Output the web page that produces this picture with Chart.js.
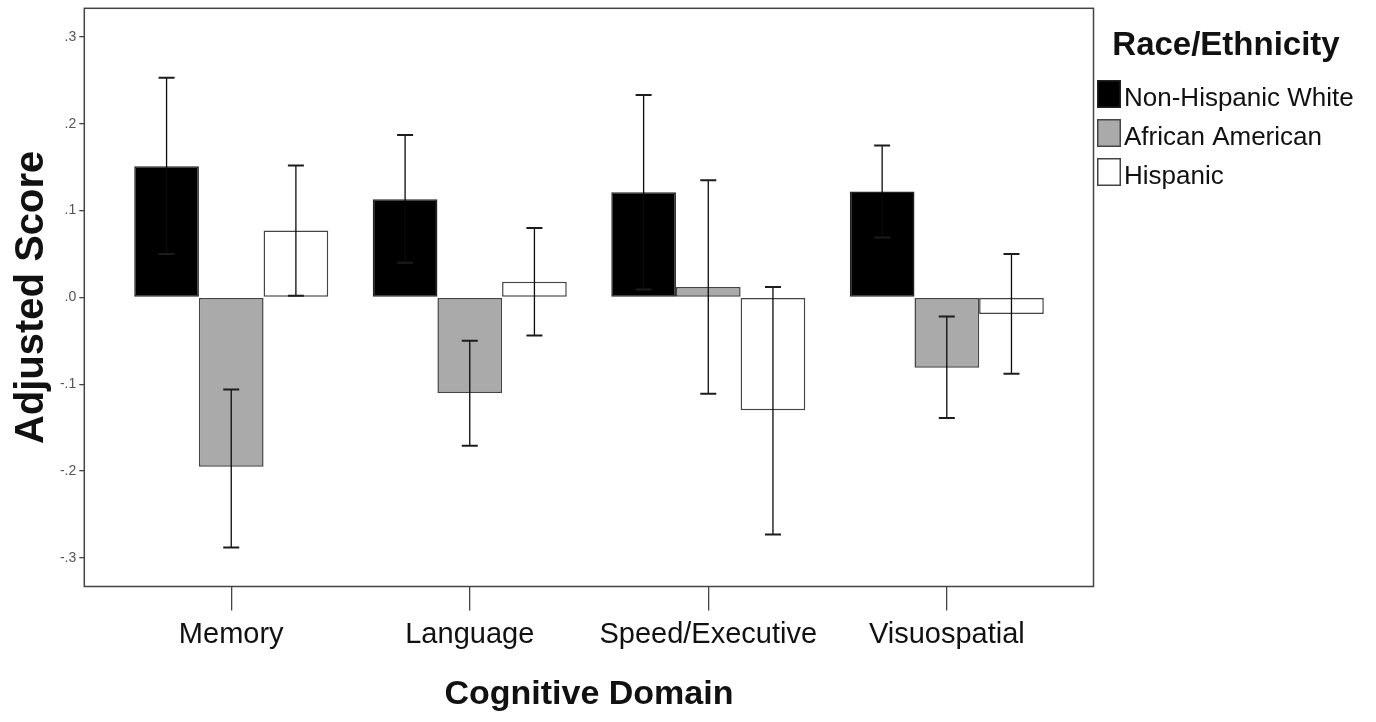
<!DOCTYPE html>
<html>
<head>
<meta charset="utf-8">
<script src="https://cdn.jsdelivr.net/npm/chart.js@4/dist/chart.umd.min.js"></script>
<style>
html, body { margin: 0; padding: 0; background: #ffffff; }
canvas { display: block; }
</style>
</head>
<body>
<canvas id="chart" width="1376" height="722"></canvas>
<script>
// ---- data ----
const categories = ['Memory', 'Language', 'Speed/Executive', 'Visuospatial'];
const seriesNames = ['Non-Hispanic White', 'African American', 'Hispanic'];

const nhwMean  = [0.151, 0.113, 0.121, 0.122];
const nhwHigh  = [0.253, 0.187, 0.233, 0.175];
const nhwLow   = [0.050, 0.040, 0.009, 0.069];

const aaMean   = [-0.195, -0.110, 0.012, -0.081];
const aaHigh   = [-0.106, -0.050, 0.135, -0.022];
const aaLow    = [-0.288, -0.171, -0.111, -0.139];

const hispMean = [0.077, 0.018, -0.130, -0.019];
const hispHigh = [0.152, 0.080, 0.012, 0.050];
const hispLow  = [0.002, -0.044, -0.273, -0.088];

const yTicks = [-0.3, -0.2, -0.1, 0, 0.1, 0.2, 0.3];
const xTitle = 'Cognitive Domain';
const yTitle = 'Adjusted Score';
const legendTitle = 'Race/Ethnicity';

// ---- chart ----
const FONT = '"Liberation Sans", Arial, Helvetica, sans-serif';
Chart.defaults.font.family = FONT;
Chart.defaults.color = '#111111';

const toPoints = arr => arr.map((v, i) => ({ x: i + 1, y: v }));

const errorBars = {
  id: 'errorBars',
  afterDatasetsDraw(chart, args, opts) {
    const ctx = chart.ctx;
    const ys = chart.scales.y;
    chart.data.datasets.forEach((ds, di) => {
      const meta = chart.getDatasetMeta(di);
      meta.data.forEach((bar, i) => {
        const x = bar.x;
        const yHi = ys.getPixelForValue(ds.errHigh[i]);
        const yLo = ys.getPixelForValue(ds.errLow[i]);
        ctx.save();
        ctx.strokeStyle = opts.color;
        ctx.lineWidth = opts.lineWidth;
        ctx.beginPath();
        ctx.moveTo(x, yHi);
        ctx.lineTo(x, yLo);
        ctx.stroke();
        ctx.strokeStyle = opts.capColor;
        ctx.lineWidth = opts.capLineWidth;
        ctx.beginPath();
        ctx.moveTo(x - opts.capWidth / 2, yHi);
        ctx.lineTo(x + opts.capWidth / 2, yHi);
        ctx.moveTo(x - opts.capWidth / 2, yLo);
        ctx.lineTo(x + opts.capWidth / 2, yLo);
        ctx.stroke();
        ctx.restore();
      });
    });
  }
};

const frame = {
  id: 'frame',
  afterDraw(chart, args, opts) {
    const { left, top, right, bottom } = chart.chartArea;
    const ctx = chart.ctx;
    ctx.save();
    ctx.strokeStyle = opts.color;
    ctx.lineWidth = opts.lineWidth;
    ctx.strokeRect(left, top, right - left, bottom - top);
    ctx.restore();
  }
};

const sideLegend = {
  id: 'sideLegend',
  afterDraw(chart, args, opts) {
    const ctx = chart.ctx;
    const area = chart.chartArea;
    const x0 = area.right + opts.offsetX;
    ctx.save();
    ctx.fillStyle = '#111111';
    ctx.font = 'bold ' + opts.titleSize + 'px ' + FONT;
    ctx.textAlign = 'center';
    ctx.textBaseline = 'middle';
    ctx.fillText(opts.title, opts.titleCenterX, opts.titleY);
    ctx.font = opts.labelSize + 'px ' + FONT;
    ctx.textAlign = 'left';
    chart.data.datasets.forEach((ds, i) => {
      const y = opts.firstY + i * opts.step;
      ctx.fillStyle = ds.backgroundColor;
      ctx.fillRect(x0, y, opts.boxW, opts.boxH);
      ctx.strokeStyle = ds.borderColor;
      ctx.lineWidth = 1.5;
      ctx.strokeRect(x0 + 0.75, y + 0.75, opts.boxW - 1.5, opts.boxH - 1.5);
      ctx.fillStyle = '#111111';
      ctx.fillText(ds.label, x0 + opts.boxW + opts.gap, y + opts.boxH / 2 + opts.textDy);
    });
    ctx.restore();
  }
};

new Chart(document.getElementById('chart'), {
  type: 'bar',
  data: {
    datasets: [
      {
        label: seriesNames[0], data: toPoints(nhwMean), errHigh: nhwHigh, errLow: nhwLow,
        backgroundColor: '#000000', borderColor: '#222222'
      },
      {
        label: seriesNames[1], data: toPoints(aaMean), errHigh: aaHigh, errLow: aaLow,
        backgroundColor: '#aaaaaa', borderColor: '#444444'
      },
      {
        label: seriesNames[2], data: toPoints(hispMean), errHigh: hispHigh, errLow: hispLow,
        backgroundColor: '#ffffff', borderColor: '#444444'
      }
    ]
  },
  options: {
    responsive: false,
    animation: false,
    devicePixelRatio: 1,
    layout: { padding: { top: 8.3, right: 282.5, bottom: 0, left: 0 } },
    datasets: {
      bar: {
        borderWidth: 1.5,
        borderSkipped: false,
        categoryPercentage: 0.8133,
        barPercentage: 1.0
      }
    },
    plugins: {
      legend: { display: false },
      tooltip: { enabled: false },
      errorBars: { color: '#0a0a0a', lineWidth: 1.3, capColor: '#1c1c1c', capLineWidth: 2, capWidth: 16 },
      frame: { color: '#444444', lineWidth: 1.5 },
      sideLegend: {
        title: legendTitle, titleSize: 33, titleCenterX: 1226, titleY: 46,
        labelSize: 26, offsetX: 3.5, firstY: 80, step: 39, boxW: 24, boxH: 28, gap: 3, textDy: 5
      }
    },
    scales: {
      x: {
        type: 'linear',
        min: 0.384,
        max: 4.615,
        offset: false,
        afterBuildTicks: (scale) => { scale.ticks = categories.map((c, i) => ({ value: i + 1 })); },
        afterFit: (scale) => { scale.height = 135.5; scale.paddingLeft = 0; scale.paddingRight = 0; },
        border: { display: false },
        grid: { display: true, offset: false, drawOnChartArea: false, drawTicks: true, tickLength: 24, color: '#444444', lineWidth: 1.3 },
        ticks: {
          autoSkip: false,
          maxRotation: 0,
          padding: 7,
          color: '#111111',
          font: { size: 29, lineHeight: 1.2 },
          callback: (v) => categories[Math.round(v) - 1] || ''
        },
        title: {
          display: true,
          text: xTitle,
          color: '#111111',
          font: { size: 34, weight: 'bold', lineHeight: 1.2 },
          padding: { top: 0, bottom: 6.6 }
        }
      },
      y: {
        min: -0.333,
        max: 0.333,
        afterBuildTicks: (scale) => { scale.ticks = yTicks.map(v => ({ value: v })); },
        afterFit: (scale) => { scale.width = 84.3; scale.paddingTop = 0; scale.paddingBottom = 0; },
        border: { display: false },
        grid: { display: true, drawOnChartArea: false, drawTicks: true, tickLength: 5, color: '#444444', lineWidth: 1.3 },
        ticks: {
          padding: 3,
          color: '#555555',
          font: { size: 14 },
          callback: (v) => {
            const s = Number(v).toFixed(1);
            return s.replace(/^(-?)0\./, '$1.');
          }
        },
        title: {
          display: true,
          text: yTitle,
          color: '#111111',
          font: { size: 40, weight: 'bold', lineHeight: 1 },
          padding: { top: 11.5, bottom: 0 }
        }
      }
    }
  },
  plugins: [errorBars, frame, sideLegend]
});
</script>
</body>
</html>
